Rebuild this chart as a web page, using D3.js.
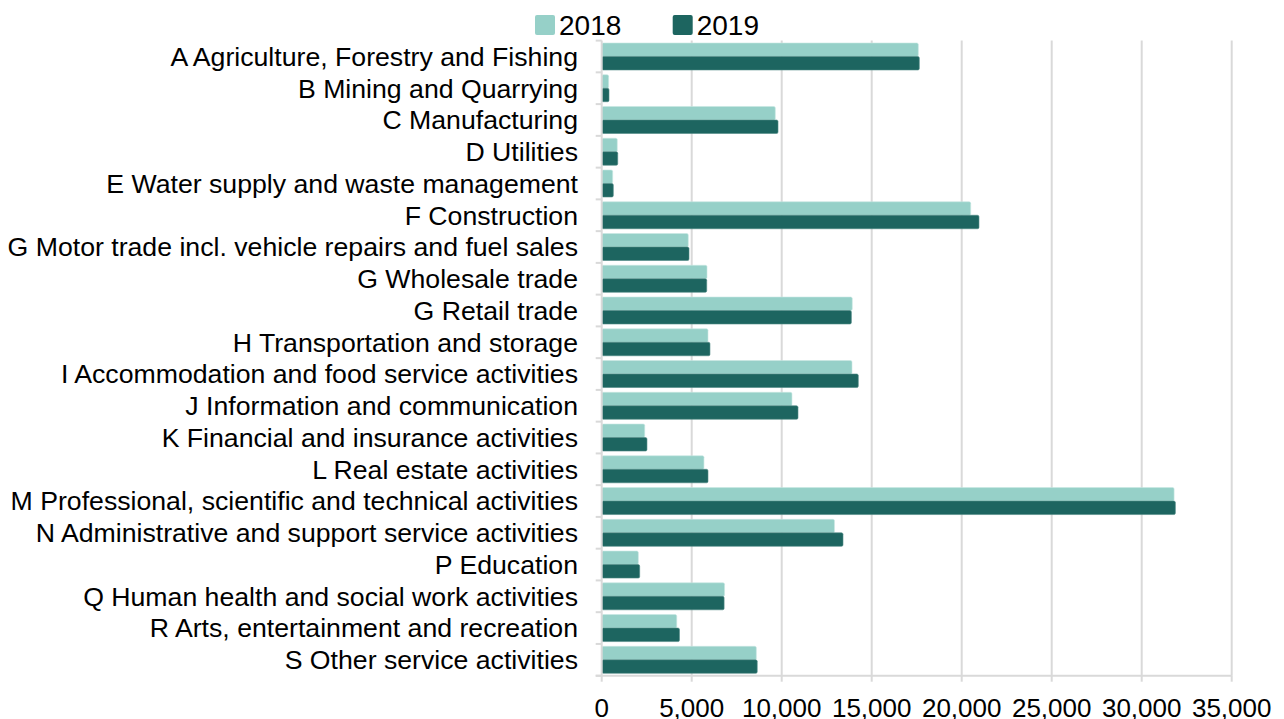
<!DOCTYPE html>
<html>
<head>
<meta charset="utf-8">
<script src="https://cdn.jsdelivr.net/npm/d3@7"></script>
<style>
  html, body { margin: 0; padding: 0; background: #ffffff; }
  svg { display: block; }
  text { font-family: "Liberation Sans", Arial, sans-serif; fill: #000; }
</style>
</head>
<body>
<svg id="chart" width="1284" height="719"></svg>
<script>
const categories = [
  "A Agriculture, Forestry and Fishing",
  "B Mining and Quarrying",
  "C Manufacturing",
  "D Utilities",
  "E Water supply and waste management",
  "F Construction",
  "G Motor trade incl. vehicle repairs and fuel sales",
  "G Wholesale trade",
  "G Retail trade",
  "H Transportation and storage",
  "I Accommodation and food service activities",
  "J Information and communication",
  "K Financial and insurance activities",
  "L Real estate activities",
  "M Professional, scientific and technical activities",
  "N Administrative and support service activities",
  "P Education",
  "Q Human health and social work activities",
  "R Arts, entertainment and recreation",
  "S Other service activities"
];
const seriesNames = ["2018", "2019"];
const values2018 = [17590, 385, 9645, 865, 610, 20500, 4810, 5850, 13920, 5905, 13905, 10570, 2390, 5680, 31800, 12930, 2035, 6825, 4170, 8590];
const values2019 = [17645, 405, 9795, 890, 645, 20960, 4850, 5835, 13870, 6015, 14255, 10905, 2515, 5905, 31870, 13405, 2110, 6800, 4320, 8640];
const xTicks = [0, 5000, 10000, 15000, 20000, 25000, 30000, 35000];
const colors = ["#96d0c8", "#1d6560"];

(function () {
const svg = d3.select("#chart");
const pLeft = 601.7, pRight = 1231.7, pTop = 40.6, pBottom = 675.7;

const x = d3.scaleLinear().domain([0, 35000]).range([pLeft, pRight]);
const y0 = d3.scaleBand().domain(categories).range([pTop, pBottom]).paddingInner(0.15).paddingOuter(0.075);
const y1 = d3.scaleBand().domain(seriesNames).range([0, y0.bandwidth()]);
const color = d3.scaleOrdinal().domain(seriesNames).range(colors);

// gridlines
svg.append("g").selectAll("line").data(xTicks.slice(1)).join("line")
  .attr("x1", d => x(d)).attr("x2", d => x(d))
  .attr("y1", pTop).attr("y2", pBottom)
  .attr("stroke", "#d9d9d9").attr("stroke-width", 2);

// bars
const data = categories.map((c, i) => ({cat: c, vals: [
  {s: "2018", v: values2018[i]}, {s: "2019", v: values2019[i]}
]}));
const groups = svg.append("g").selectAll("g").data(data).join("g")
  .attr("transform", d => `translate(0,${y0(d.cat)})`);
groups.selectAll("rect").data(d => d.vals).join("rect")
  .attr("x", x(0))
  .attr("y", d => y1(d.s))
  .attr("width", d => x(d.v) - x(0))
  .attr("height", y1.bandwidth())
  .attr("rx", 1.5)
  .attr("fill", d => color(d.s))
  .attr("stroke", d => d.s === "2018" ? "#c8e8e3" : "#4f8a85")
  .attr("stroke-width", 0.6);

// left axis line and ticks
const step = y0.step();
const boundaries = d3.range(categories.length + 1).map(i => pTop + i * step);
svg.append("line").attr("x1", pLeft).attr("x2", pLeft).attr("y1", pTop).attr("y2", pBottom)
  .attr("stroke", "#d9d9d9").attr("stroke-width", 2);
svg.append("g").selectAll("line").data(boundaries).join("line")
  .attr("x1", pLeft - 6).attr("x2", pLeft).attr("y1", d => d).attr("y2", d => d)
  .attr("stroke", "#d9d9d9").attr("stroke-width", 2);

// bottom axis
svg.append("line").attr("x1", pLeft - 6).attr("x2", pRight).attr("y1", pBottom).attr("y2", pBottom)
  .attr("stroke", "#d9d9d9").attr("stroke-width", 2);
svg.append("g").selectAll("line").data(xTicks).join("line")
  .attr("x1", d => x(d)).attr("x2", d => x(d)).attr("y1", pBottom).attr("y2", pBottom + 6)
  .attr("stroke", "#d9d9d9").attr("stroke-width", 2);
svg.append("g").selectAll("text").data(xTicks).join("text")
  .attr("x", d => x(d)).attr("y", 716.5)
  .attr("text-anchor", "middle")
  .style("font-size", "26px")
  .text(d => d3.format(",")(d));

// category labels
svg.append("g").selectAll("text").data(categories).join("text")
  .attr("x", 578).attr("y", d => y0(d) + y0.bandwidth() / 2)
  .attr("dy", "0.35em")
  .attr("text-anchor", "end")
  .style("font-size", "26.67px")
  .text(d => d);

// legend
const legendItems = [{s: "2018", x: 535}, {s: "2019", x: 672.7}];
const lg = svg.append("g").selectAll("g").data(legendItems).join("g")
  .attr("transform", d => `translate(${d.x},15)`);
lg.append("rect").attr("width", 20).attr("height", 20).attr("rx", 2)
  .attr("fill", d => color(d.s));
lg.append("text").attr("x", 24).attr("y", 20)
  .style("font-size", "28px")
  .text(d => d.s);
})();
</script>
</body>
</html>
